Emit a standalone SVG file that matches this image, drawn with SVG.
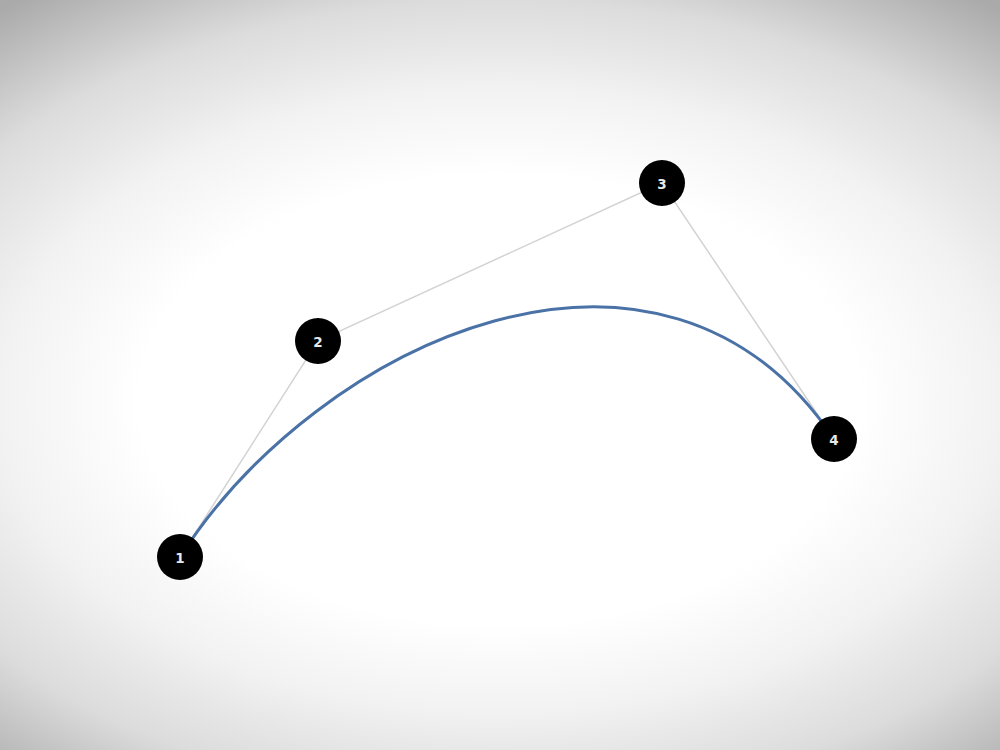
<svg xmlns="http://www.w3.org/2000/svg" width="1000" height="750" viewBox="0 0 1000 750">
<defs>
<radialGradient id="bg" cx="500" cy="400" r="800" gradientUnits="userSpaceOnUse" gradientTransform="translate(500 400) scale(1 0.625) translate(-500 -400)">
<stop offset="0" stop-color="#ffffff"/>
<stop offset="0.45" stop-color="#ffffff"/>
<stop offset="0.625" stop-color="#f2f2f2"/>
<stop offset="0.7" stop-color="#e8e8e8"/>
<stop offset="0.8" stop-color="#dcdcdc"/>
<stop offset="1" stop-color="#aaaaaa"/>
</radialGradient>
<style>
.ctrl{stroke:#d3d3d3;stroke-width:1.5;fill:none}
.curve{stroke:#4a72a6;stroke-width:3;fill:none}
.node circle{fill:#000}
.node text{fill:#e8e8e8;font-family:"DejaVu Sans",sans-serif;font-weight:bold;font-size:13.5px;text-anchor:middle;dominant-baseline:central}
</style>
</defs>
<rect width="1000" height="750" fill="url(#bg)"/>
<g id="connectors">
<polyline class="ctrl" points="180,557 318,341 662,183 834,439"/>
<path class="curve" d="M180,557 C318,341 662,183 834,439"/>
</g>
<g id="node1" class="node"><circle cx="180" cy="557" r="23"/><text x="180" y="558">1</text></g>
<g id="node2" class="node"><circle cx="318" cy="341" r="23"/><text x="318" y="342">2</text></g>
<g id="node3" class="node"><circle cx="662" cy="183" r="23"/><text x="662" y="184">3</text></g>
<g id="node4" class="node"><circle cx="834" cy="439" r="23"/><text x="834" y="440">4</text></g>
</svg>
